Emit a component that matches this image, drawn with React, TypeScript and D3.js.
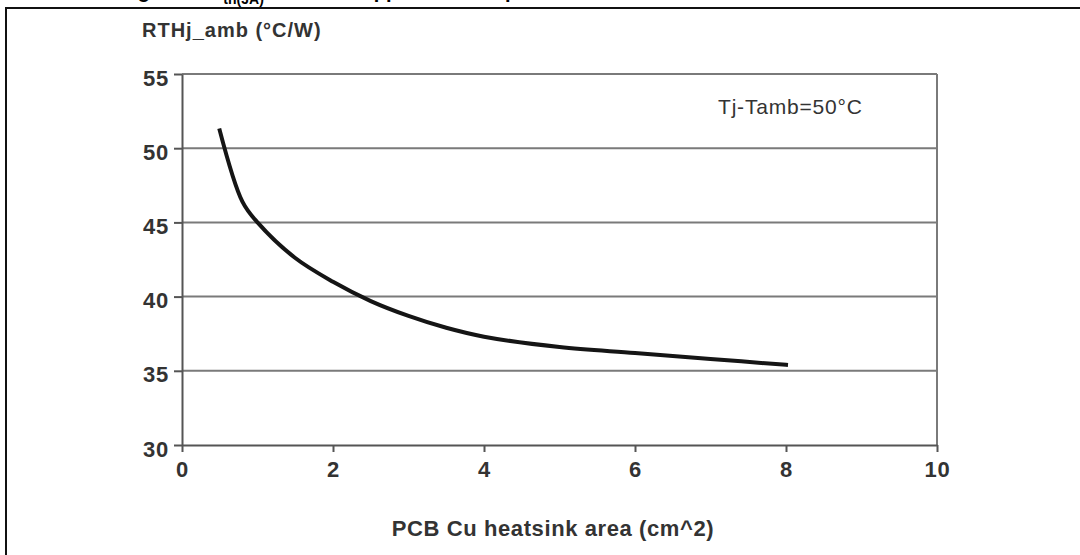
import { useRef, useEffect } from "react";
import { select, scaleLinear, axisLeft, axisBottom, line, curveCatmullRom } from "d3";

const areaCm2 = [0.5, 0.8, 1.0, 1.5, 2.0, 2.5, 3.0, 3.5, 4.0, 5.0, 6.0, 7.0, 8.0];
const rthJamb = [51.2, 46.4, 45.0, 42.6, 41.0, 39.7, 38.7, 37.9, 37.3, 36.6, 36.2, 35.8, 35.4];
const xTicks = [0, 2, 4, 6, 8, 10];
const yTicks = [30, 35, 40, 45, 50, 55];

const W = 1080;
const H = 555;
const FONT = "'Liberation Sans', Arial, sans-serif";

export default function App() {
  const svgRef = useRef<SVGSVGElement>(null);

  useEffect(() => {
    const svg = select(svgRef.current);
    const x = scaleLinear().domain([0, 10]).range([182, 937]);
    const y = scaleLinear().domain([30, 55]).range([445, 74]);

    // grid lines
    svg.select(".grid")
      .selectAll("line")
      .data(yTicks.filter((t) => t > 30))
      .join("line")
      .attr("x1", x(0))
      .attr("x2", x(10))
      .attr("y1", (d) => y(d))
      .attr("y2", (d) => y(d))
      .attr("stroke", "#7a7a7a")
      .attr("stroke-width", 2);

    // right border of plot
    svg.select(".rborder")
      .attr("x1", x(10)).attr("x2", x(10))
      .attr("y1", y(55)).attr("y2", y(30))
      .attr("stroke", "#7a7a7a").attr("stroke-width", 2);

    const yAxis = axisLeft(y).tickValues(yTicks).tickSize(8).tickPadding(5).tickSizeOuter(0);
    const ya = svg.select(".y-axis").attr("transform", `translate(${x(0)},0)`).call(yAxis as any);
    ya.select(".domain").attr("stroke", "#555").attr("stroke-width", 2);
    ya.selectAll(".tick line").attr("stroke", "#555").attr("stroke-width", 2);
    ya.selectAll(".tick text")
      .attr("font-family", FONT).attr("font-size", 22).attr("font-weight", "bold")
      .attr("letter-spacing", 0.8)
      .attr("fill", "#333").attr("dy", "0.5em");

    const xAxis = axisBottom(x).tickValues(xTicks).tickSize(7).tickPadding(9).tickSizeOuter(0);
    const xa = svg.select(".x-axis").attr("transform", `translate(0,${y(30)})`).call(xAxis as any);
    xa.select(".domain").attr("stroke", "#555").attr("stroke-width", 2);
    xa.selectAll(".tick line").attr("stroke", "#555").attr("stroke-width", 2);
    xa.selectAll(".tick text")
      .attr("font-family", FONT).attr("font-size", 22).attr("font-weight", "bold")
      .attr("letter-spacing", 0.8)
      .attr("fill", "#333");

    const pts = areaCm2.map((a, i) => [a, rthJamb[i]] as [number, number]);
    const curve = line<[number, number]>()
      .x((d) => x(d[0]))
      .y((d) => y(d[1]))
      .curve(curveCatmullRom.alpha(0.5));
    svg.select(".curve")
      .attr("d", curve(pts))
      .attr("fill", "none")
      .attr("stroke", "#151515")
      .attr("stroke-width", 4)
      .attr("stroke-linecap", "square");
  }, []);

  return (
    <div style={{ position: "fixed", left: 0, top: 0 }}>
      <svg ref={svgRef} width={W} height={H} style={{ display: "block", background: "#fff" }}>
        <text x={120} y={-2} fontFamily={FONT} fontSize={20} fontWeight="bold" fill="#000">
          Figure 4. R<tspan fontSize={14} dy={6}>th(JA)</tspan>
          <tspan dy={-6}> vs. PCB copper area in open box free air condition</tspan>
        </text>
        <rect x={6} y={8} width={W} height={H} fill="none" stroke="#111" strokeWidth={2} />
        <g className="grid" />
        <line className="rborder" />
        <g className="y-axis" />
        <g className="x-axis" />
        <path className="curve" />
        <text x={142} y={37} fontFamily={FONT} fontSize={20} fontWeight="bold" letterSpacing={1} fill="#333">
          RTHj_amb (°C/W)
        </text>
        <text x={718} y={114} fontFamily={FONT} fontSize={21} letterSpacing={0.8} fill="#333">
          Tj-Tamb=50°C
        </text>
        <text x={553} y={536} textAnchor="middle" fontFamily={FONT} fontSize={22} fontWeight="bold" letterSpacing={0.6} fill="#333">
          PCB Cu heatsink area (cm^2)
        </text>
      </svg>
    </div>
  );
}
